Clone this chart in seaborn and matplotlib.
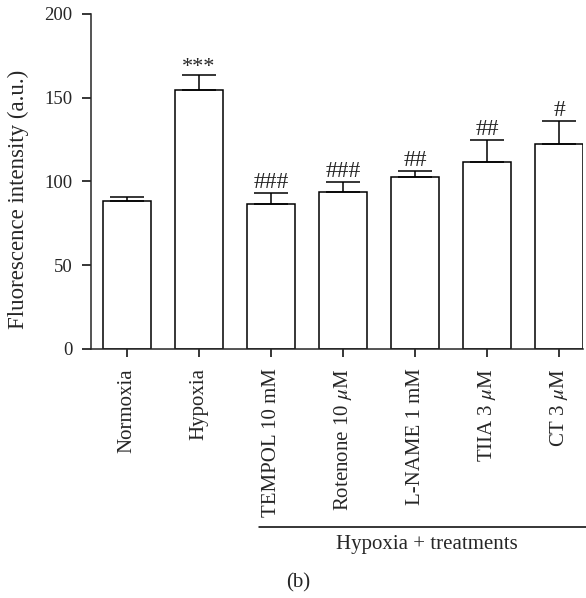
import matplotlib
matplotlib.use('Agg')
import matplotlib.pyplot as plt
import seaborn as sns
import pandas as pd
import numpy as np

# data
groups = ['Normoxia', 'Hypoxia', 'TEMPOL 10 mM', 'Rotenone 10 $\\mu$M',
          'L-NAME 1 mM', 'TIIA 3 $\\mu$M', 'CT 3 $\\mu$M']
means = [88.4, 154.8, 86.6, 93.5, 102.5, 111.4, 122.6]
sems = [2.3, 8.6, 6.7, 6.2, 3.8, 13.6, 13.3]
marks = ['', '***', '###', '###', '##', '##', '#']

sns.set_style('ticks')
plt.rcParams['font.family'] = ['Liberation Serif', 'DejaVu Serif']
plt.rcParams['mathtext.fontset'] = 'stix'

df = pd.DataFrame({'group': groups, 'value': means})

fig = plt.figure(figsize=(5.86, 5.98), dpi=100)
ax = fig.add_axes([0.1553, 0.4164, 0.8396, 0.5602])

sns.barplot(data=df, x='group', y='value', ax=ax, color='white',
            edgecolor='black', linewidth=1.1, width=0.667, errorbar=None)

x = np.arange(len(groups))
ax.errorbar(x, means, yerr=[np.zeros(len(sems)), sems], fmt='none',
            ecolor='black', elinewidth=1.1, capsize=12.5, capthick=1.1)

for i, (m, s, t) in enumerate(zip(means, sems, marks)):
    if t.startswith('*'):
        ax.text(i, m + s + 2.0, t, ha='center', va='baseline', fontsize=16)
    elif t:
        ax.text(i, m + s + 3.0, t, ha='center', va='baseline', fontsize=17)

ax.set_xlim(-0.5, 6.333)
ax.set_ylim(0, 200)
ax.set_yticks([0, 50, 100, 150, 200])
ax.set_xlabel('')
ax.set_ylabel('Fluorescence intensity (a.u.)', fontsize=16.5)
ax.yaxis.set_label_coords(-0.126, 0.448)
ax.tick_params(axis='y', labelsize=13.5, length=6.5, width=1.1, pad=7, color='black')
ax.tick_params(axis='x', labelsize=15, length=6, width=1.1, pad=8, color='black')
plt.setp(ax.get_xticklabels(), rotation=90)
for sp in ['left', 'bottom']:
    ax.spines[sp].set_linewidth(1.1)
sns.despine(ax=ax)

# group bracket below tick labels
fig.add_artist(plt.Line2D([259 / 586, 586 / 586], [1 - 527 / 598, 1 - 527 / 598],
                          color='black', linewidth=1.1))
fig.text(427 / 586, 1 - 545 / 598, 'Hypoxia + treatments', ha='center',
         va='center', fontsize=15)
fig.text(298 / 586, 1 - 583 / 598, '(b)', ha='center', va='center', fontsize=15)

fig.savefig('out.png', dpi=100)
